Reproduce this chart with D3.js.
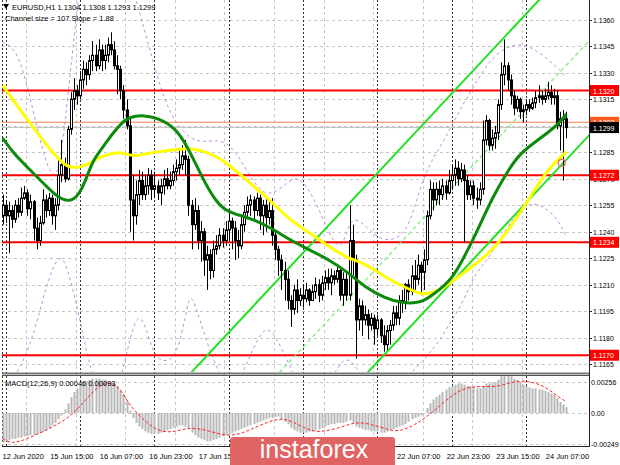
<!DOCTYPE html>
<html><head><meta charset="utf-8">
<script src="https://cdn.jsdelivr.net/npm/d3@7"></script>
<style>body{margin:0;background:#fff}svg{display:block}text{font-family:"Liberation Sans",Arial,sans-serif}</style>
</head><body><svg id="c" width="620" height="465"></svg>
<script>
// ---------------- DATA ----------------
const symbolTitle = "EURUSD,H1";
const headerOHLC = ["1.1304","1.1308","1.1293","1.1299"];
const channelText = "Channel size = 107 Slope = 1.88";
const macdText = "MACD(12,26,9) 0.00046 0.00093";
const firstOpen = 1.1249;
const closes = [1.1255,1.1249,1.1252,1.1247,1.1255,1.1251,1.1259,1.1262,1.1253,1.1257,1.1242,1.1235,1.1245,1.1258,1.1252,1.1259,1.1249,1.1255,1.1272,1.1278,
1.1270,1.1298,1.1315,1.1320,1.1317,1.1326,1.1332,1.1329,1.1337,1.1340,1.1334,1.1343,1.1337,1.1340,1.1346,1.1343,1.1334,1.1332,1.1320,1.1309,
1.1300,1.1258,1.1249,1.1261,1.1269,1.1261,1.1266,1.1272,1.1264,1.1266,1.1262,1.1266,1.1270,1.1266,1.1269,1.1274,1.1276,1.1278,1.1283,1.1281,
1.1255,1.1244,1.1252,1.1235,1.1240,1.1224,1.1227,1.1218,1.1230,1.1232,1.1238,1.1235,1.1241,1.1246,1.1242,1.1235,1.1232,1.1244,1.1251,1.1255,
1.1258,1.1252,1.1259,1.1249,1.1255,1.1248,1.1252,1.1238,1.1230,1.1224,1.1218,1.1213,1.1201,1.1196,1.1207,1.1201,1.1204,1.1202,1.1207,1.1201,
1.1206,1.1210,1.1204,1.1211,1.1214,1.1211,1.1215,1.1213,1.1218,1.1204,1.1213,1.1204,1.1235,1.1224,1.1190,1.1198,1.1190,1.1193,1.1187,1.1191,
1.1185,1.1190,1.1181,1.1176,1.1184,1.1187,1.1194,1.1191,1.1201,1.1200,1.1210,1.1206,1.1215,1.1213,1.1221,1.1217,1.1224,1.1249,1.1264,1.1258,
1.1264,1.1261,1.1266,1.1262,1.1269,1.1272,1.1276,1.1270,1.1275,1.1269,1.1261,1.1266,1.1259,1.1258,1.1264,1.1292,1.1303,1.1289,1.1293,1.1296,
1.1312,1.1329,1.1334,1.1326,1.1317,1.1310,1.1315,1.1308,1.1309,1.1312,1.1310,1.1313,1.1316,1.1317,1.1315,1.1317,1.1319,1.1316,1.1317,1.1300,
1.1304,1.1304,1.1299];
const highs = [1.1261,1.1258,1.1257,1.1255,1.1258,1.1259,1.1265,1.1266,1.1264,1.1261,1.1258,1.1248,1.1249,1.1264,1.1261,1.1262,1.1261,1.1259,1.1281,1.1292,
1.1282,1.1300,1.1319,1.1327,1.1323,1.1331,1.1337,1.1336,1.1340,1.1348,1.1346,1.1349,1.1346,1.1346,1.1350,1.1353,1.1348,1.1340,1.1334,1.1323,
1.1315,1.1304,1.1272,1.1269,1.1275,1.1274,1.1272,1.1276,1.1275,1.1274,1.1269,1.1270,1.1275,1.1276,1.1274,1.1278,1.1281,1.1286,1.1289,1.1292,
1.1283,1.1258,1.1259,1.1255,1.1246,1.1242,1.1232,1.1230,1.1235,1.1238,1.1242,1.1242,1.1246,1.1252,1.1248,1.1246,1.1241,1.1249,1.1255,1.1260,
1.1261,1.1260,1.1262,1.1261,1.1258,1.1259,1.1258,1.1259,1.1241,1.1232,1.1227,1.1223,1.1218,1.1204,1.1210,1.1213,1.1208,1.1210,1.1211,1.1208,
1.1210,1.1214,1.1213,1.1215,1.1218,1.1219,1.1219,1.1218,1.1221,1.1219,1.1217,1.1218,1.1255,1.1244,1.1227,1.1202,1.1201,1.1198,1.1196,1.1194,
1.1193,1.1193,1.1191,1.1187,1.1187,1.1190,1.1198,1.1198,1.1204,1.1207,1.1211,1.1213,1.1221,1.1224,1.1227,1.1223,1.1230,1.1252,1.1269,1.1268,
1.1268,1.1269,1.1270,1.1269,1.1275,1.1278,1.1281,1.1280,1.1279,1.1278,1.1272,1.1269,1.1269,1.1265,1.1268,1.1303,1.1306,1.1304,1.1298,1.1300,
1.1315,1.1336,1.1349,1.1336,1.1329,1.1320,1.1317,1.1316,1.1312,1.1315,1.1315,1.1316,1.1320,1.1323,1.1320,1.1321,1.1325,1.1323,1.1321,1.1320,
1.1308,1.1309,1.1308];
const lows = [1.1244,1.1245,1.1228,1.1242,1.1245,1.1248,1.1249,1.1258,1.1249,1.1247,1.1235,1.1230,1.1232,1.1244,1.1248,1.1249,1.1244,1.1241,1.1252,1.1268,
1.1268,1.1269,1.1295,1.1309,1.1312,1.1315,1.1321,1.1323,1.1326,1.1331,1.1331,1.1332,1.1331,1.1332,1.1336,1.1340,1.1332,1.1318,1.1315,1.1304,
1.1298,1.1240,1.1235,1.1244,1.1255,1.1258,1.1258,1.1261,1.1258,1.1259,1.1258,1.1255,1.1261,1.1264,1.1264,1.1266,1.1269,1.1272,1.1275,1.1272,
1.1249,1.1230,1.1241,1.1230,1.1223,1.1215,1.1207,1.1213,1.1214,1.1227,1.1230,1.1231,1.1232,1.1235,1.1230,1.1224,1.1225,1.1230,1.1240,1.1247,
1.1249,1.1247,1.1249,1.1241,1.1238,1.1240,1.1244,1.1232,1.1224,1.1215,1.1207,1.1201,1.1196,1.1186,1.1193,1.1194,1.1198,1.1197,1.1200,1.1198,
1.1201,1.1202,1.1200,1.1201,1.1207,1.1207,1.1204,1.1210,1.1211,1.1201,1.1198,1.1201,1.1201,1.1215,1.1168,1.1184,1.1181,1.1187,1.1179,1.1184,
1.1176,1.1181,1.1177,1.1172,1.1173,1.1176,1.1184,1.1187,1.1187,1.1194,1.1196,1.1201,1.1204,1.1207,1.1210,1.1204,1.1207,1.1221,1.1247,1.1252,
1.1255,1.1255,1.1258,1.1258,1.1261,1.1264,1.1266,1.1266,1.1268,1.1234,1.1258,1.1258,1.1255,1.1253,1.1255,1.1261,1.1289,1.1286,1.1286,1.1287,
1.1292,1.1309,1.1323,1.1320,1.1312,1.1306,1.1308,1.1304,1.1302,1.1306,1.1308,1.1309,1.1310,1.1313,1.1312,1.1313,1.1315,1.1312,1.1312,1.1298,
1.1286,1.1269,1.1293];
// moving averages: [bar, price]
const maYellow = [[0,1.1323],[9.8,1.1299],[17.5,1.1282],[20.8,1.12767],[24,1.12761],[27.2,1.12778],[31.4,1.12823],[35.6,1.12846],[37.9,1.12852],[42.7,1.12823],
[46.9,1.12846],[52.4,1.12857],[58.8,1.12874],[64.3,1.12863],[69.5,1.12823],[74,1.12767],[79.8,1.12676],[86.3,1.12579],[92.7,1.12466],[99.2,1.12392],
[105.6,1.12313],[111.1,1.12251],[116.9,1.12222],[123.4,1.12143],[129.8,1.12086],[135.3,1.12041],[138.5,1.12052],[142.7,1.12086],[146.9,1.12143],[152.4,1.12211],
[158.2,1.12296],[163.7,1.12421],[169.2,1.12562],[175.6,1.1275],[182,1.12852]];
const maGreen = [[0,1.12931],[3.4,1.12846],[7.9,1.12767],[12.1,1.12693],[16.3,1.12619],[19.5,1.12579],[22.4,1.12574],[25,1.12619],[27.2,1.1271],[29.2,1.12806],
[32.4,1.1288],[35.6,1.12959],[37.9,1.13005],[40.4,1.1305],[45.9,1.13061],[50.1,1.13044],[55.6,1.12993],[59.8,1.1288],[64.3,1.1271],[68.5,1.12579],
[71.7,1.12523],[75,1.125],[79.8,1.12477],[86.3,1.12426],[92.7,1.12353],[99.2,1.12296],[105.6,1.12239],[111.4,1.12171],[116.9,1.12086],[123.4,1.12024],
[128.8,1.11995],[135.3,1.11995],[139.5,1.12052],[145,1.12126],[149.9,1.12285],[154.1,1.12438],[158.2,1.12596],[162.7,1.12732],[166.9,1.12846],[174.3,1.12937],
[179.8,1.13016],[182,1.13067]];
const bandUpper = [[0,1.13475],[4,1.13441],[7.2,1.13288],[10.5,1.13033],[13.7,1.12806],[16.3,1.12704],[17.9,1.12738],[19.5,1.1292],[21.1,1.13175],[23,1.13487],
[25,1.13827],[29.8,1.14167],[36.3,1.14054],[41.1,1.13827],[45,1.136],[49.2,1.13317],[53.4,1.1309],[57.2,1.12988],[61.1,1.1292],[65.3,1.12908],
[68.5,1.1292],[73.4,1.12903],[78.8,1.1275],[84,1.12596],[89.5,1.12636],[93.7,1.1271],[96.9,1.12693],[100.8,1.12579],[104.6,1.12426],[108.2,1.12296],
[110.5,1.12353],[112.7,1.12494],[116.9,1.12438],[121.7,1.12353],[126.6,1.12353],[129.8,1.12398],[132.1,1.12483],[135.3,1.12676],[138.5,1.12806],[142.7,1.1292],
[147.5,1.1309],[152.4,1.13231],[157.2,1.13373],[162.1,1.13441],[166.9,1.1347],[172.4,1.1343],[177.5,1.13356],[182,1.13277]];
const bandLower = [[0,1.1150],[5.6,1.1161],[10.5,1.1184],[13.7,1.1207],[16.9,1.1223],[19.2,1.1227],[21.7,1.1215],[25,1.1190],[28.2,1.1162],[33,1.1140],
[38,1.1150],[43.7,1.12054],[48.2,1.1170],[52.4,1.11655],[56.6,1.1170],[59.8,1.1200],[61.1,1.12063],[66.3,1.11739],[71.8,1.11529],[75,1.1150],
[80,1.1170],[85,1.1190],[90,1.1175],[96,1.1150],[101,1.1145],[106,1.1155],[110,1.1170],[114,1.1165],[120,1.1145],[126,1.1150],
[132,1.1160],[140,1.1175],[145,1.1190],[148.9,1.12007],[152,1.1215],[157,1.1225],[162,1.1240],[168.8,1.12579],[175.6,1.1254],[180,1.1245],[182,1.1237]];
// regression channel
const channelAnchorBar = 121, channelAnchorMid = 1.12197, channelSlopePerBar = 0.000188, channelHalfWidth = 0.00535;
const channelFromBar = 60, channelToBar = 195;
// horizontal levels
const levels = [
  {price:1.1320, label:"1.1320", kind:"red"},
  {price:1.1302, label:"1.1302", kind:"orange"},
  {price:1.1299, label:"1.1299", kind:"bid"},
  {price:1.1272, label:"1.1272", kind:"red"},
  {price:1.1234, label:"1.1234", kind:"red"},
  {price:1.1170, label:"1.1170", kind:"red"}
];
const priceTicks = [1.1165,1.1180,1.1195,1.1210,1.1225,1.1240,1.1255,1.1270,1.1285,1.1300,1.1315,1.1330,1.1345,1.1360];
const timeLabels = [[0,"12 Jun 2020"],[16,"15 Jun 15:00"],[32,"16 Jun 07:00"],[48,"16 Jun 23:00"],[64,"17 Jun 15:00"],[80,"18 Jun 07:00"],
[96,"18 Jun 23:00"],[112,"19 Jun 15:00"],[128,"22 Jun 07:00"],[144,"22 Jun 23:00"],[160,"23 Jun 15:00"],[176,"24 Jun 07:00"]];
const daySeparatorBars = [1,25,49,73,97,121,145,169];
const macdHist = [-0.0024,-0.0023,-0.0022,-0.0021,-0.0021,-0.0020,-0.0020,-0.0019,
-0.0019,-0.0018,-0.0018,-0.0017,-0.0016,-0.0015,-0.0014,-0.0012,
-0.0010,-0.0008,-0.0005,-0.0002, 0.0003,0.0008,0.0013,0.0017, 0.0020,0.0023,0.0025,0.0026,
0.0027,0.0028,0.0028,0.0028,0.0027,0.0027,0.0026,0.0025, 0.0024,0.0022,0.0019,0.0015,
0.0010,0.0002,-0.0004,-0.0008, -0.0011,-0.0013,-0.0015,-0.0016,-0.0017,-0.0017,-0.0017,
-0.0016,-0.0015,-0.0014,-0.0013,-0.0012,-0.0011,-0.0010,-0.0010, -0.0011,-0.0013,-0.0016,-0.0018,-0.0020,-0.0021,
-0.0022,-0.0023,-0.0023,-0.0022,-0.0021,-0.0020, -0.0019,-0.0018,-0.0017,-0.0016,-0.0015,-0.0014,
-0.0013,-0.0012,-0.0011,-0.0010,-0.0009,-0.0008,-0.0007,-0.0006,-0.0005,-0.0004,-0.0004,-0.0003,
-0.0003,-0.0005,-0.0007,-0.0009,-0.0012,-0.0014,-0.0015,-0.0016, -0.0016,-0.0016,-0.0015,-0.0015,-0.0014,-0.0013,-0.0012,-0.0011,
-0.0010,-0.0009,-0.0009,-0.0008,-0.0008,-0.0008,-0.0007,-0.0006, -0.0008,-0.0011,-0.0012,-0.0013,-0.0014,-0.0014,-0.0015,-0.0015,
-0.0015,-0.0016,-0.0016,-0.0015,-0.0014,-0.0013,-0.0012,-0.0011, -0.0010,-0.0009,-0.0007,-0.0005,-0.0004,-0.0003,
-0.0002,0.0000,0.0004,0.0008,0.0011,0.0013, 0.0015,0.0017,0.0019,0.0021,0.0022,0.0023,
0.0024,0.0024,0.0023,0.0022,0.0022,0.0021,0.0020,0.0020, 0.0022,0.0024,0.0024,0.0025,0.0025,0.0027,
0.0030,0.0032,0.0031,0.0030,0.0028,0.0027, 0.0025,0.0023,0.0022,0.0021,0.0020,0.0020,
0.0019,0.0019,0.0018,0.0017,0.0016,0.0015, 0.0012,0.0009,0.0007,0.00046];
const macdSignal = [[0,-0.0021],[3,-0.0025],[7,-0.0022],[15,-0.0013],[22,-0.0003],[27,0.0011],[31,0.0023],[35,0.0025],[38,0.0020],[41,0.0006],
[46,-0.0007],[51,-0.0016],[56,-0.0015],[60,-0.0012],[65,-0.0013],[72,-0.0019],[77,-0.0017],[83,-0.0010],[89,-0.0004],[93,-0.0006],
[98,-0.0013],[102,-0.0016],[109,-0.0012],[114,-0.0007],[119,-0.0009],[125,-0.0014],[128,-0.0015],[133,-0.0010],[138,-0.0001],[143,0.0010],
[148,0.0020],[154,0.0022],[160,0.0021],[165,0.0026],[170,0.0026],[175,0.0022],[180,0.0012],[182,0.00093]];
const macdLabels = [[0.00256,"0.00256"],[0,"0.00"],[-0.00249,"-0.00249"]];
const markerCircle = [180.5, 1.1279];
const watermarkText = "instaforex";

// ---------------- DRAW ----------------
const svg = d3.select("#c");
const plotL = 2, plotR = 589, mainTop = 0, mainBot = 372, macdTop = 376, macdBot = 446;
const x = d3.scaleLinear().domain([-0.2, 189.3]).range([plotL, plotR]);
const y = d3.scaleLinear().domain([1.11605, 1.13713]).range([mainBot, mainTop]);
const ym = d3.scaleLinear().domain([-0.00268, 0.00301]).range([macdBot, macdTop]);
const px = v => Math.round(v) + 0.5;

const defs = svg.append("defs");
defs.append("clipPath").attr("id","cm").append("rect").attr("x",plotL).attr("y",mainTop).attr("width",plotR-plotL).attr("height",mainBot-mainTop);
defs.append("clipPath").attr("id","cd").append("rect").attr("x",plotL).attr("y",macdTop).attr("width",plotR-plotL).attr("height",macdBot-macdTop);

// grid
const grid = svg.append("g");
grid.selectAll("line.h").data(priceTicks).join("line")
  .attr("x1",plotL).attr("x2",plotR).attr("y1",d=>px(y(d))).attr("y2",d=>px(y(d)))
  .attr("stroke","#c6c6c6").attr("stroke-dasharray","3,3");
grid.selectAll("line.v").data(timeLabels).join("line")
  .attr("x1",d=>px(x(d[0])-26)).attr("x2",d=>px(x(d[0])-26)).attr("y1",mainTop).attr("y2",macdBot)
  .attr("stroke","#c6c6c6").attr("stroke-dasharray","3,3");
grid.selectAll("line.sep").data(daySeparatorBars).join("line")
  .attr("x1",d=>px(x(d))).attr("x2",d=>px(x(d))).attr("y1",mainTop).attr("y2",macdBot)
  .attr("stroke","#333").attr("stroke-dasharray","2,2");
grid.append("line").attr("x1",2.5).attr("x2",2.5).attr("y1",0).attr("y2",macdBot).attr("stroke","#333").attr("stroke-dasharray","2,2");

const main = svg.append("g").attr("clip-path","url(#cm)");
// bands
const lineGen = d3.line().x(d=>x(d[0])).y(d=>y(d[1])).curve(d3.curveBasis);
[bandUpper, bandLower].forEach(b => main.append("path").attr("d", lineGen(b)).attr("fill","none")
  .attr("stroke","#c08ee0").attr("stroke-width",1).attr("stroke-dasharray","3,3"));
// levels lines
const levelColor = {red:"#ff0000", orange:"#ff7f50", bid:"#c0c0c0"};
main.selectAll("line.lv").data(levels).join("line")
  .attr("x1",plotL).attr("x2",plotR).attr("y1",d=>y(d.price)).attr("y2",d=>y(d.price))
  .attr("stroke",d=>levelColor[d.kind]).attr("stroke-width",d=>d.kind==="red"?2:1);
// channel
const chPrice = (b, off) => channelAnchorMid + (b - channelAnchorBar) * channelSlopePerBar + off;
[[channelHalfWidth, null, 2],[0, "4,3", 1.3],[-channelHalfWidth, null, 2]].forEach(([off, dash, w]) => {
  main.append("line").attr("x1",x(channelFromBar)).attr("y1",y(chPrice(channelFromBar,off)))
    .attr("x2",x(channelToBar)).attr("y2",y(chPrice(channelToBar,off)))
    .attr("stroke", dash ? "#7cf07c" : "#22e022").attr("stroke-width",w).attr("stroke-dasharray",dash);
});
// candles
const opens = closes.map((c,i)=> i===0 ? firstOpen : closes[i-1]);
const cg = main.append("g");
closes.forEach((c,i)=>{
  const o = opens[i], hi = Math.max(highs[i],o,c), lo = Math.min(lows[i],o,c);
  const cx = Math.round(x(i));
  cg.append("line").attr("x1",cx+0.5).attr("x2",cx+0.5).attr("y1",y(hi)).attr("y2",y(lo)).attr("stroke","#000").attr("stroke-width",1);
  const top = y(Math.max(o,c)), bot = y(Math.min(o,c));
  cg.append("rect").attr("x",cx-0.5).attr("y",top).attr("width",2).attr("height",Math.max(bot-top,0.8))
    .attr("fill", c>=o ? "#fff" : "#000").attr("stroke","#000").attr("stroke-width",1);
});
// MAs
main.append("path").attr("d",lineGen(maYellow)).attr("fill","none").attr("stroke","#ffff00").attr("stroke-width",3);
main.append("path").attr("d",lineGen(maGreen)).attr("fill","none").attr("stroke","#0b8a0b").attr("stroke-width",3);
main.append("circle").attr("cx",x(markerCircle[0])).attr("cy",y(markerCircle[1])).attr("r",3.5)
  .attr("fill","none").attr("stroke","#e46a6a").attr("stroke-width",1.2);

// MACD
const md = svg.append("g").attr("clip-path","url(#cd)");
macdLabels.forEach(([v])=> md.append("line").attr("x1",plotL).attr("x2",plotR).attr("y1",px(ym(v))).attr("y2",px(ym(v)))
  .attr("stroke","#c6c6c6").attr("stroke-dasharray","3,3"));
md.selectAll("rect.h").data(macdHist).join("rect")
  .attr("x",(d,i)=>Math.round(x(i))-0.5).attr("width",2)
  .attr("y",d=>Math.min(ym(d),ym(0))).attr("height",d=>Math.abs(ym(d)-ym(0)))
  .attr("fill","#b8b8b8");
const sigGen = d3.line().x(d=>x(d[0])).y(d=>ym(d[1])).curve(d3.curveBasis);
md.append("path").attr("d",sigGen(macdSignal)).attr("fill","none").attr("stroke","#ff2020").attr("stroke-width",1).attr("stroke-dasharray","3,2");

// frames
svg.append("line").attr("x1",plotR+0.5).attr("x2",plotR+0.5).attr("y1",0).attr("y2",macdBot+1).attr("stroke","#222");
svg.append("rect").attr("x",plotL).attr("y",mainBot+0.5).attr("width",plotR-plotL).attr("height",2).attr("fill","#777");
svg.append("line").attr("x1",plotL).attr("x2",plotR).attr("y1",macdTop-0.5).attr("y2",macdTop-0.5).attr("stroke","#555");
svg.append("line").attr("x1",plotL).attr("x2",plotR+1).attr("y1",macdBot+0.5).attr("y2",macdBot+0.5).attr("stroke","#222");

// price axis labels
const fs = "7px";
svg.append("g").selectAll("text").data(priceTicks).join("text")
  .attr("x",593).attr("y",d=>y(d)+3).attr("font-size",fs).attr("fill","#000").text(d=>d.toFixed(4));
svg.append("g").selectAll("line").data(priceTicks).join("line")
  .attr("x1",plotR).attr("x2",plotR+3).attr("y1",d=>px(y(d))).attr("y2",d=>px(y(d))).attr("stroke","#222");
const boxColor = {red:"#ff0000", orange:"#ff5a1f", bid:"#000"};
const lb = svg.append("g");
levels.forEach(l=>{
  const yy = y(l.price);
  lb.append("rect").attr("x",590).attr("y",yy-5.5).attr("width",29).attr("height",11).attr("fill",boxColor[l.kind]);
  lb.append("text").attr("x",593).attr("y",yy+3).attr("font-size",fs).attr("fill","#fff").text(l.label);
});
macdLabels.forEach(([v,t])=> svg.append("text").attr("x",591).attr("y",ym(v)+3).attr("font-size",fs).text(t));

// time labels
svg.append("g").selectAll("text").data(timeLabels).join("text")
  .attr("x",d=>x(d[0])+ (d[0]===0?0:-2)).attr("y",459).attr("font-size","7.5px").text(d=>d[1]);

// header texts
svg.append("path").attr("d","M3,4 L9,4 L6,9 Z").attr("fill","#000");
svg.append("text").attr("x",12).attr("y",10).attr("font-size","7.5px").text(symbolTitle + "  " + headerOHLC.join(" "));
svg.append("text").attr("x",5).attr("y",21).attr("font-size","7.5px").text(channelText);
svg.append("text").attr("x",5).attr("y",386).attr("font-size","7.5px").text(macdText);

// watermark
const wm = svg.append("g");
wm.append("rect").attr("x",230).attr("y",437).attr("width",165).attr("height",30).attr("rx",3).attr("fill","#e06464");
wm.append("text").attr("x",314).attr("y",458).attr("text-anchor","middle").attr("font-size","25px")
  .attr("font-family","'Open Sans',sans-serif").attr("fill","#fff").text(watermarkText);
</script></body></html>
